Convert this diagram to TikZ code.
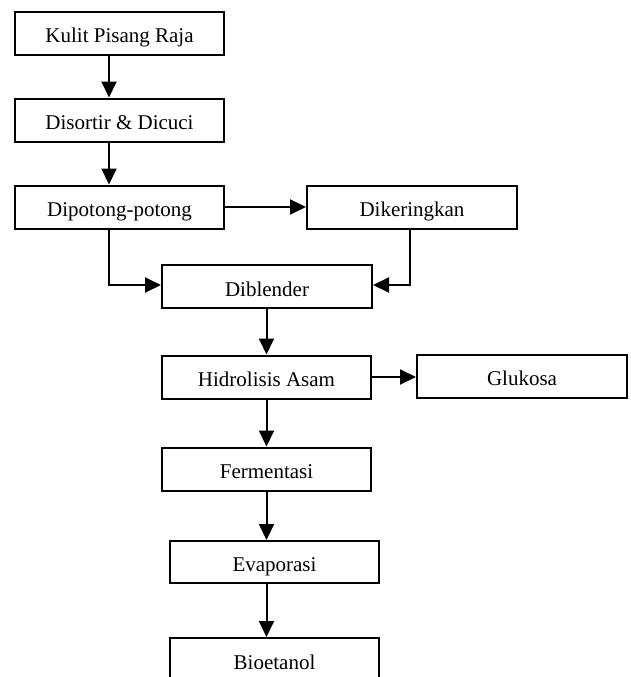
\documentclass[tikz,border=0pt]{standalone}
\usepackage{fontspec}
\setmainfont{Liberation Serif}
\usetikzlibrary{arrows.meta}

\begin{document}
\begin{tikzpicture}[x=1pt, y=-1pt,
  box/.style={draw, line width=2pt, minimum width=209pt, minimum height=43pt, inner sep=0pt, text height=19pt, text depth=0pt, font=\fontsize{21}{25}\selectfont},
  arr/.style={line width=2pt, -{Triangle[length=16pt,width=15pt]}}]

\useasboundingbox (0,0) rectangle (631,677);
\clip (0,0) rectangle (631,677);

\node[box] (kulit) at (119.5,33.5) {Kulit Pisang Raja};
\node[box] (sortir) at (119.5,120) {Disortir \& Dicuci};
\node[box] (potong) at (119.5,207) {Dipotong-potong};
\node[box, minimum width=210pt] (kering) at (412,207) {Dikeringkan};
\node[box, minimum width=210pt] (blender) at (267,286.5) {Diblender};
\node[box] (hidro) at (266.5,377) {Hidrolisis Asam};
\node[box, minimum width=210pt] (gluk) at (522,376) {Glukosa};
\node[box] (ferm) at (266.5,469) {Fermentasi};
\node[box, minimum height=42pt] (evap) at (274.5,562) {Evaporasi};
\node[box, minimum height=44pt] (bio) at (274.5,660) {Bioetanol};

\begin{scope}[arr]
\draw ([xshift=-10.5pt]kulit.south) -- ([xshift=-10.5pt]sortir.north); %kulit-sortir
\draw ([xshift=-10.5pt]sortir.south) -- ([xshift=-10.5pt]potong.north); %sortir-potong
\draw (potong.east) -- (kering.west); %potong-kering
\draw ([xshift=-10.5pt]potong.south) |- ([yshift=1.5pt]blender.west); %potong-blender
\draw ([xshift=-2pt]kering.south) |- ([yshift=1.5pt]blender.east); %kering-blender
\draw (blender.south -| hidro.south) -- (hidro.north); %blender-hidro
\draw (hidro.east) -- (gluk.west |- hidro.east); %hidro-gluk
\draw (hidro.south) -- (ferm.north); %hidro-ferm
\draw (ferm.south) -- (ferm.south |- evap.north); %ferm-evap
\draw (ferm.south |- evap.south) -- (ferm.south |- bio.north); %evap-bio
\end{scope}

\end{tikzpicture}
\end{document}
